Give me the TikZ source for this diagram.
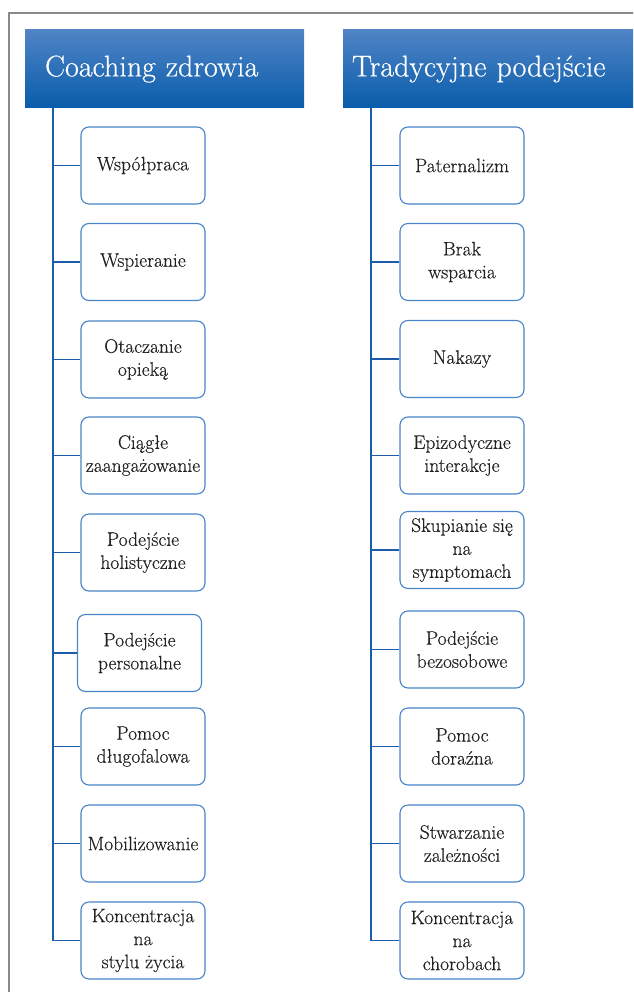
\documentclass[tikz,border=0pt]{standalone}
\usepackage{fontspec}
\setmainfont{Latin Modern Roman}[FakeBold=0.4]
\definecolor{hdtop}{RGB}{80,132,198}
\definecolor{hdbot}{RGB}{8,92,170}
\definecolor{boxblue}{RGB}{72,132,200}
\definecolor{linkblue}{RGB}{26,92,168}
\definecolor{txt}{RGB}{34,34,34}
\definecolor{framegray}{RGB}{138,138,138}
\begin{document}
\begin{tikzpicture}[x=1pt,y=-1pt,
  header/.style={rectangle, top color=hdtop, bottom color=hdbot, draw=none,
    minimum height=78pt, text=white, font=\fontsize{30}{34}\selectfont,
    inner ysep=0pt, align=left},
  item/.style={draw=boxblue, line width=1.1pt, rounded corners=8pt, fill=white,
    minimum width=124pt, minimum height=77pt, align=center, text=txt,
    font=\fontsize{19.5}{23}\selectfont, inner sep=2pt},
  trunk/.style={draw=linkblue, line width=2pt},
  branch/.style={draw=linkblue, line width=1.1pt}]
\useasboundingbox (0,0) rectangle (633,992);
\clip (0,0) rectangle (633,992);
\draw[framegray, line width=1.4pt] (9,13) rectangle (660,1020);

% headers
\node[header, inner xsep=20pt, text width=239pt] (h1) at (164.5,69) {Coaching zdrowia};
\node[header, inner xsep=9pt, text width=272pt] (h2) at (488,69) {Tradycyjne podejście};

\coordinate (t1) at (53,0);
\coordinate (t2) at (371,0);

% left column
\node[item] (a1) at (143,165.5) {Współpraca};
\node[item] (a2) at (143,262) {Wspieranie};
\node[item] (a3) at (143,359.5) {Otaczanie\\opieką};
\node[item] (a4) at (143,455.5) {Ciągłe\\zaangażowanie};
\node[item] (a5) at (143,552.5) {Podejście\\holistyczne};
\node[item] (a6) at (139.5,653) {Podejście\\personalne};
\node[item] (a7) at (143,746.5) {Pomoc\\długofalowa};
\node[item] (a8) at (143,843.5) {Mobilizowanie};
\node[item] (a9) at (143,940.5) {Koncentracja\\na\\stylu życia};

% right column
\node[item] (b1) at (462,165.5) {Paternalizm};
\node[item] (b2) at (462,262) {Brak\\wsparcia};
\node[item] (b3) at (462,359) {Nakazy};
\node[item] (b4) at (462,455.5) {Epizodyczne\\interakcje};
\node[item] (b5) at (462,550) {Skupianie się\\na\\symptomach};
\node[item] (b6) at (462,649.5) {Podejście\\bezosobowe};
\node[item] (b7) at (462,746.5) {Pomoc\\doraźna};
\node[item] (b8) at (462,843.5) {Stwarzanie\\zależności};
\node[item] (b9) at (462,940.5) {Koncentracja\\na\\chorobach};

% trunks
\draw[trunk] (h1.south -| t1) -- (a9.west -| t1);
\draw[trunk] (h2.south -| t2) -- (b9.west -| t2);

% branches
\foreach \n in {1,...,9} {
  \draw[branch] (a\n.west -| t1) -- (a\n.west);
  \draw[branch] (b\n.west -| t2) -- (b\n.west);
}
\end{tikzpicture}
\end{document}
